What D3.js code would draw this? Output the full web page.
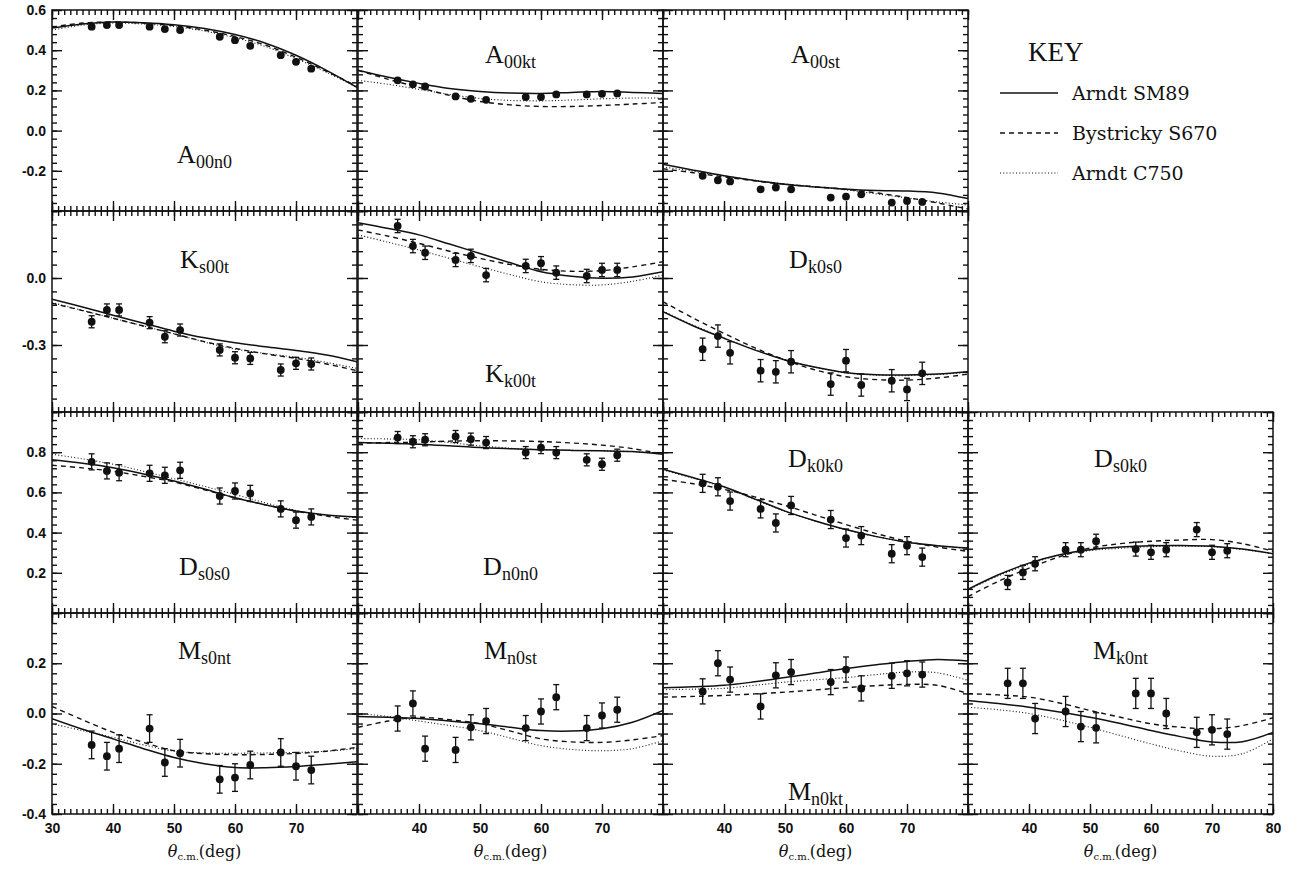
<!DOCTYPE html>
<html>
<head>
<meta charset="utf-8">
<script src="https://cdn.jsdelivr.net/npm/d3@7"></script>
<style>
  body { margin: 0; background: #fff; }
  .tick text { font-family: "Liberation Sans", Arial, sans-serif; font-weight: bold; font-size: 14px; fill: #111; }
</style>
</head>
<body>
<svg id="chart" width="1297" height="869"></svg>
<script>
/* global d3 */

// angles (deg) of the data points and of the model curve samples
var angles = [36.5, 39, 41, 46, 48.5, 51, 57.5, 60, 62.5, 67.5, 70, 72.5];
var curveAngles = [30, 35, 40, 45, 50, 55, 60, 65, 70, 75, 80];

// y ranges and tick labels, one per row
var rowDomains = [[-0.4, 0.6], [-0.6, 0.3], [0, 1], [-0.4, 0.4]];
var rowMajor = [0.2, 0.3, 0.2, 0.2];
var rowMinor = [0.04, 0.06, 0.04, 0.04];
var rowLabels = [[0.6, 0.4, 0.2, 0.0, -0.2], [0.0, -0.3], [0.8, 0.6, 0.4, 0.2], [0.2, 0.0, -0.2, -0.4]];
var colLabels = [[30, 40, 50, 60, 70], [40, 50, 60, 70], [40, 50, 60, 70], [40, 50, 60, 70, 80]];

// --- row 1 ---
var A00n0_pts = [0.517, 0.525, 0.525, 0.517, 0.505, 0.50, 0.467, 0.45, 0.422, 0.375, 0.342, 0.308];
var A00n0_err = 0.006;
var A00n0_sm89 = [0.51, 0.53, 0.54, 0.537, 0.527, 0.508, 0.478, 0.435, 0.375, 0.30, 0.215];
var A00n0_s670 = [0.515, 0.535, 0.54, 0.535, 0.522, 0.50, 0.468, 0.425, 0.365, 0.295, 0.22];
var A00n0_c750 = [0.50, 0.525, 0.535, 0.53, 0.518, 0.495, 0.462, 0.418, 0.358, 0.29, 0.215];

var A00kt_pts = [0.25, 0.23, 0.22, 0.17, 0.158, 0.153, 0.167, 0.167, 0.18, 0.18, 0.183, 0.185];
var A00kt_err = 0.006;
var A00kt_sm89 = [0.30, 0.265, 0.235, 0.21, 0.195, 0.187, 0.185, 0.19, 0.195, 0.19, 0.185];
var A00kt_s670 = [0.30, 0.255, 0.215, 0.175, 0.145, 0.128, 0.12, 0.12, 0.125, 0.132, 0.14];
var A00kt_c750 = [0.25, 0.23, 0.205, 0.18, 0.16, 0.15, 0.148, 0.152, 0.158, 0.162, 0.162];

var A00st_pts = [-0.225, -0.247, -0.253, -0.292, -0.283, -0.292, -0.333, -0.328, -0.317, -0.358, -0.35, -0.355];
var A00st_err = 0.006;
var A00st_sm89 = [-0.167, -0.197, -0.225, -0.248, -0.267, -0.28, -0.292, -0.298, -0.30, -0.31, -0.338];
var A00st_s670 = [-0.19, -0.21, -0.23, -0.25, -0.267, -0.28, -0.292, -0.31, -0.333, -0.36, -0.39];
var A00st_c750 = [-0.18, -0.203, -0.225, -0.247, -0.265, -0.28, -0.295, -0.315, -0.335, -0.355, -0.37];

// --- row 2 ---
var Ks00t_pts = [-0.196, -0.143, -0.143, -0.2, -0.263, -0.233, -0.322, -0.357, -0.36, -0.412, -0.382, -0.385];
var Ks00t_err = 0.027;
var Ks00t_sm89 = [-0.095, -0.13, -0.167, -0.203, -0.238, -0.268, -0.29, -0.308, -0.325, -0.345, -0.375];
var Ks00t_s670 = [-0.113, -0.146, -0.18, -0.215, -0.25, -0.285, -0.315, -0.34, -0.36, -0.385, -0.415];
var Ks00t_c750 = [-0.11, -0.145, -0.18, -0.215, -0.25, -0.287, -0.318, -0.338, -0.355, -0.378, -0.405];

var Kk00t_pts = [0.233, 0.143, 0.113, 0.081, 0.099, 0.013, 0.054, 0.066, 0.024, 0.009, 0.036, 0.036];
var Kk00t_err = 0.03;
var Kk00t_sm89 = [0.248, 0.222, 0.193, 0.152, 0.11, 0.068, 0.028, 0.008, -0.001, 0.005, 0.028];
var Kk00t_s670 = [0.215, 0.187, 0.155, 0.12, 0.088, 0.06, 0.039, 0.03, 0.033, 0.05, 0.073];
var Kk00t_c750 = [0.193, 0.16, 0.125, 0.088, 0.05, 0.015, -0.017, -0.03, -0.031, -0.015, 0.013];

var Dk0s0_pts = [-0.319, -0.26, -0.335, -0.415, -0.42, -0.375, -0.475, -0.37, -0.479, -0.46, -0.499, -0.427];
var Dk0s0_err = 0.05;
var Dk0s0_sm89 = [-0.151, -0.215, -0.27, -0.322, -0.367, -0.4, -0.424, -0.433, -0.434, -0.43, -0.42];
var Dk0s0_s670 = [-0.106, -0.18, -0.248, -0.312, -0.367, -0.412, -0.442, -0.455, -0.457, -0.448, -0.43];
var Dk0s0_c750 = [-0.148, -0.212, -0.268, -0.32, -0.366, -0.4, -0.425, -0.435, -0.437, -0.432, -0.422];

// --- row 3 ---
var Ds0s0_pts = [0.752, 0.707, 0.698, 0.695, 0.685, 0.71, 0.582, 0.607, 0.595, 0.518, 0.462, 0.478];
var Ds0s0_err = 0.04;
var Ds0s0_sm89 = [0.762, 0.745, 0.723, 0.692, 0.657, 0.617, 0.573, 0.538, 0.507, 0.488, 0.478];
var Ds0s0_s670 = [0.735, 0.722, 0.705, 0.68, 0.652, 0.613, 0.573, 0.538, 0.507, 0.482, 0.462];
var Ds0s0_c750 = [0.79, 0.767, 0.74, 0.705, 0.668, 0.63, 0.59, 0.548, 0.51, 0.487, 0.475];

var Dn0n0_pts = [0.873, 0.852, 0.862, 0.878, 0.865, 0.848, 0.798, 0.823, 0.798, 0.762, 0.74, 0.785];
var Dn0n0_err = 0.03;
var Dn0n0_sm89 = [0.848, 0.845, 0.84, 0.832, 0.823, 0.817, 0.812, 0.809, 0.807, 0.803, 0.79];
var Dn0n0_s670 = [0.845, 0.848, 0.85, 0.855, 0.857, 0.856, 0.853, 0.846, 0.835, 0.818, 0.79];
var Dn0n0_c750 = [0.868, 0.866, 0.862, 0.848, 0.832, 0.82, 0.812, 0.809, 0.807, 0.803, 0.795];

var Dk0k0_pts = [0.645, 0.628, 0.557, 0.518, 0.448, 0.535, 0.465, 0.373, 0.385, 0.295, 0.335, 0.278];
var Dk0k0_err = 0.045;
var Dk0k0_sm89 = [0.715, 0.673, 0.628, 0.568, 0.507, 0.458, 0.415, 0.38, 0.352, 0.335, 0.323];
var Dk0k0_s670 = [0.665, 0.643, 0.615, 0.578, 0.535, 0.487, 0.44, 0.395, 0.357, 0.328, 0.307];
var Dk0k0_c750 = [0.712, 0.67, 0.625, 0.566, 0.506, 0.457, 0.414, 0.38, 0.352, 0.334, 0.322];

var Ds0k0_pts = [0.152, 0.202, 0.245, 0.315, 0.315, 0.357, 0.318, 0.302, 0.315, 0.415, 0.302, 0.31];
var Ds0k0_err = 0.035;
var Ds0k0_sm89 = [0.118, 0.19, 0.248, 0.29, 0.315, 0.328, 0.335, 0.336, 0.332, 0.318, 0.295];
var Ds0k0_s670 = [0.082, 0.158, 0.223, 0.28, 0.323, 0.345, 0.357, 0.363, 0.365, 0.345, 0.307];
var Ds0k0_c750 = [0.115, 0.185, 0.243, 0.287, 0.31, 0.322, 0.33, 0.332, 0.33, 0.316, 0.295];

// --- row 4 ---
var Ms0nt_pts = [-0.125, -0.17, -0.14, -0.06, -0.195, -0.158, -0.262, -0.255, -0.205, -0.155, -0.21, -0.225];
var Ms0nt_err = 0.055;
var Ms0nt_sm89 = [-0.021, -0.063, -0.101, -0.14, -0.175, -0.2, -0.215, -0.216, -0.211, -0.202, -0.192];
var Ms0nt_s670 = [0.028, -0.025, -0.075, -0.115, -0.148, -0.16, -0.164, -0.163, -0.159, -0.15, -0.135];
var Ms0nt_c750 = [-0.041, -0.068, -0.095, -0.125, -0.15, -0.157, -0.158, -0.157, -0.155, -0.15, -0.14];

var Mn0st_pts = [-0.02, 0.04, -0.14, -0.145, -0.055, -0.03, -0.058, 0.008, 0.065, -0.058, -0.008, 0.015];
var Mn0st_err = 0.05;
var Mn0st_sm89 = [-0.012, -0.015, -0.02, -0.03, -0.041, -0.055, -0.068, -0.07, -0.061, -0.035, 0.012];
var Mn0st_s670 = [-0.055, -0.03, -0.015, -0.025, -0.04, -0.07, -0.101, -0.113, -0.115, -0.105, -0.088];
var Mn0st_c750 = [0.0, -0.012, -0.03, -0.048, -0.068, -0.098, -0.128, -0.143, -0.148, -0.14, -0.108];

var Mn0kt_pts = [0.088, 0.2, 0.135, 0.028, 0.152, 0.165, 0.125, 0.175, 0.1, 0.15, 0.16, 0.155];
var Mn0kt_err = 0.05;
var Mn0kt_sm89 = [0.102, 0.106, 0.112, 0.126, 0.143, 0.161, 0.179, 0.194, 0.207, 0.215, 0.209];
var Mn0kt_s670 = [0.065, 0.068, 0.072, 0.078, 0.085, 0.094, 0.103, 0.111, 0.116, 0.112, 0.079];
var Mn0kt_c750 = [0.095, 0.097, 0.1, 0.112, 0.125, 0.134, 0.143, 0.155, 0.165, 0.162, 0.132];

var Mk0nt_pts = [0.12, 0.12, -0.02, 0.008, -0.052, -0.057, 0.08, 0.08, 0.0, -0.075, -0.065, -0.082];
var Mk0nt_err = 0.06;
var Mk0nt_sm89 = [0.052, 0.04, 0.025, 0.006, -0.015, -0.04, -0.068, -0.093, -0.113, -0.112, -0.075];
var Mk0nt_s670 = [0.079, 0.074, 0.065, 0.042, 0.012, -0.015, -0.041, -0.055, -0.061, -0.048, -0.017];
var Mk0nt_c750 = [0.025, 0.015, 0.0, -0.025, -0.055, -0.088, -0.121, -0.15, -0.17, -0.16, -0.101];

var legendNames = ['Arndt SM89', 'Bystricky S670', 'Arndt C750'];

// LAYOUT
var colX = [52, 358, 663, 968], panelW = 305;
var rowY = [10, 211, 412, 613], panelH = 201;
var dashes = [null, '5,4', '1,2.2'];
var widths = [1.5, 1.4, 1.1];

// panel table: letter, subscript, row, col, data, title baseline (from panel top)
var panels = [
  ['A', '00n0', 0, 0, A00n0_pts, A00n0_err, [A00n0_sm89, A00n0_s670, A00n0_c750], 153],
  ['A', '00kt', 0, 1, A00kt_pts, A00kt_err, [A00kt_sm89, A00kt_s670, A00kt_c750], 53],
  ['A', '00st', 0, 2, A00st_pts, A00st_err, [A00st_sm89, A00st_s670, A00st_c750], 53],
  ['K', 's00t', 1, 0, Ks00t_pts, Ks00t_err, [Ks00t_sm89, Ks00t_s670, Ks00t_c750], 57],
  ['K', 'k00t', 1, 1, Kk00t_pts, Kk00t_err, [Kk00t_sm89, Kk00t_s670, Kk00t_c750], 171],
  ['D', 'k0s0', 1, 2, Dk0s0_pts, Dk0s0_err, [Dk0s0_sm89, Dk0s0_s670, Dk0s0_c750], 57],
  ['D', 's0s0', 2, 0, Ds0s0_pts, Ds0s0_err, [Ds0s0_sm89, Ds0s0_s670, Ds0s0_c750], 163],
  ['D', 'n0n0', 2, 1, Dn0n0_pts, Dn0n0_err, [Dn0n0_sm89, Dn0n0_s670, Dn0n0_c750], 163],
  ['D', 'k0k0', 2, 2, Dk0k0_pts, Dk0k0_err, [Dk0k0_sm89, Dk0k0_s670, Dk0k0_c750], 55],
  ['D', 's0k0', 2, 3, Ds0k0_pts, Ds0k0_err, [Ds0k0_sm89, Ds0k0_s670, Ds0k0_c750], 55],
  ['M', 's0nt', 3, 0, Ms0nt_pts, Ms0nt_err, [Ms0nt_sm89, Ms0nt_s670, Ms0nt_c750], 46],
  ['M', 'n0st', 3, 1, Mn0st_pts, Mn0st_err, [Mn0st_sm89, Mn0st_s670, Mn0st_c750], 46],
  ['M', 'n0kt', 3, 2, Mn0kt_pts, Mn0kt_err, [Mn0kt_sm89, Mn0kt_s670, Mn0kt_c750], 187],
  ['M', 'k0nt', 3, 3, Mk0nt_pts, Mk0nt_err, [Mk0nt_sm89, Mk0nt_s670, Mk0nt_c750], 46]
];

var svg = d3.select('#chart');

function translation(x, y) {
  return 'translate(' + x + ',' + y + ')';
}

function stepTicks(dom, step) {
  var n = Math.round((dom[1] - dom[0]) / step);
  return d3.range(n + 1).map(function (i) { return +(dom[0] + i * step).toFixed(4); });
}

panels.forEach(function (p) {
  var row = p[2], col = p[3];
  var x = d3.scaleLinear().domain([30, 80]).range([0, panelW]);
  var y = d3.scaleLinear().domain(rowDomains[row]).range([panelH, 0]);
  var g = svg.append('g').attr('transform', translation(colX[col], rowY[row]));

  var major = stepTicks(rowDomains[row], rowMajor[row]);
  var minor = stepTicks(rowDomains[row], rowMinor[row]);
  var xMajor = d3.range(30, 81, 10), xMinor = d3.range(30, 81, 1);

  // inward ticks on all four sides
  function ticks(axisFn, scale, vals, size, tr) {
    g.append('g').attr('class', 'axis').attr('transform', tr)
      .call(axisFn(scale).tickValues(vals).tickSize(size).tickSizeOuter(0).tickFormat(''))
      .call(function (s) {
        s.select('.domain').remove();
        s.selectAll('.tick line').attr('stroke', '#111').attr('stroke-width', 1.4);
      });
  }
  ticks(d3.axisLeft, y, minor, -5, translation(0, 0));
  ticks(d3.axisLeft, y, major, -10, translation(0, 0));
  ticks(d3.axisRight, y, minor, -5, translation(panelW, 0));
  ticks(d3.axisRight, y, major, -10, translation(panelW, 0));
  ticks(d3.axisBottom, x, xMinor, -5, translation(0, panelH));
  ticks(d3.axisBottom, x, xMajor, -10, translation(0, panelH));
  ticks(d3.axisTop, x, xMinor, -5, translation(0, 0));
  ticks(d3.axisTop, x, xMajor, -10, translation(0, 0));

  g.append('rect').attr('width', panelW).attr('height', panelH)
    .attr('fill', 'none').attr('stroke', '#111').attr('stroke-width', 1.5);

  if (col === 0) {
    g.append('g').attr('class', 'axis')
      .call(d3.axisLeft(y).tickValues(rowLabels[row]).tickSize(0).tickPadding(6)
        .tickFormat(function (d) { return d.toFixed(1); }))
      .call(function (s) { s.select('.domain').remove(); });
  }
  if (row === 3) {
    g.append('g').attr('class', 'axis').attr('transform', translation(0, panelH))
      .call(d3.axisBottom(x).tickValues(colLabels[col]).tickSize(0).tickPadding(9)
        .tickFormat(d3.format('d')))
      .call(function (s) { s.select('.domain').remove(); });

    var xt = svg.append('text')
      .attr('x', colX[col] + panelW / 2).attr('y', rowY[row] + panelH + 43)
      .attr('text-anchor', 'middle')
      .style('font-family', '"DejaVu Serif", serif').style('font-size', '16px').style('fill', '#111');
    xt.append('tspan').style('font-style', 'italic').text('θ');
    xt.append('tspan').attr('dy', 3).style('font-size', '10px').text('c.m.');
    xt.append('tspan').attr('dy', -3).text('(deg)');
  }

  var clip = 'clip' + row + col;
  g.append('clipPath').attr('id', clip).append('rect').attr('width', panelW).attr('height', panelH);
  var plot = g.append('g').attr('clip-path', 'url(#' + clip + ')');

  var line = d3.line()
    .x(function (d, i) { return x(curveAngles[i]); })
    .y(function (d) { return y(d); })
    .curve(d3.curveCatmullRom.alpha(0.5));

  p[6].forEach(function (c, k) {
    plot.append('path').datum(c)
      .attr('d', line)
      .attr('fill', 'none').attr('stroke', '#111')
      .attr('stroke-width', widths[k])
      .attr('stroke-dasharray', dashes[k]);
  });

  var pts = plot.selectAll('.pt').data(p[4]).enter().append('g').attr('class', 'pt');
  pts.append('line')
    .attr('x1', function (d, i) { return x(angles[i]); })
    .attr('x2', function (d, i) { return x(angles[i]); })
    .attr('y1', function (d) { return y(d - p[5]); })
    .attr('y2', function (d) { return y(d + p[5]); })
    .attr('stroke', '#111').attr('stroke-width', 1.3);
  if (p[5] > 0.01) {
    [-1, 1].forEach(function (s) {
      pts.append('line')
        .attr('x1', function (d, i) { return x(angles[i]) - 3; })
        .attr('x2', function (d, i) { return x(angles[i]) + 3; })
        .attr('y1', function (d) { return y(d + s * p[5]); })
        .attr('y2', function (d) { return y(d + s * p[5]); })
        .attr('stroke', '#111').attr('stroke-width', 1.3);
    });
  }
  pts.append('circle')
    .attr('cx', function (d, i) { return x(angles[i]); })
    .attr('cy', function (d) { return y(d); })
    .attr('r', 3.9).attr('fill', '#111');

  // panel title with subscript
  var t = g.append('text')
    .attr('x', panelW / 2).attr('y', p[7])
    .attr('text-anchor', 'middle')
    .style('font-family', '"Liberation Serif", "Times New Roman", serif').style('fill', '#111');
  t.append('tspan').style('font-size', '26px').text(p[0]);
  t.append('tspan').attr('dy', 5).style('font-size', '18px').text(p[1]);
});

// KEY
var key = svg.append('g').attr('transform', translation(colX[3], rowY[0]));
key.append('text').attr('x', 60).attr('y', 51)
  .style('font-family', '"Liberation Serif", serif').style('font-size', '27px').style('fill', '#111')
  .text('KEY');
legendNames.forEach(function (name, k) {
  var yy = 83 + k * 40;
  key.append('line').attr('x1', 32).attr('x2', 90).attr('y1', yy).attr('y2', yy)
    .attr('stroke', '#111').attr('stroke-width', widths[k])
    .attr('stroke-dasharray', dashes[k]);
  key.append('text').attr('x', 104).attr('y', yy + 7)
    .style('font-family', '"DejaVu Serif", serif').style('font-size', '19px').style('fill', '#111')
    .text(name);
});
</script>
</body>
</html>
